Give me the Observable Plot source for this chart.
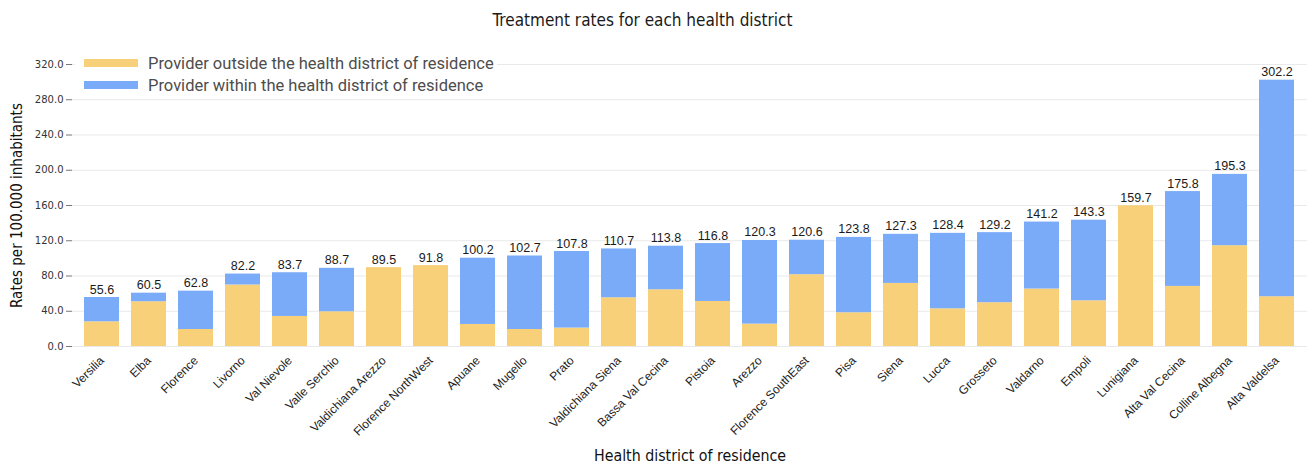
<!DOCTYPE html>
<html><head><meta charset="utf-8">
<script src="https://cdn.jsdelivr.net/npm/d3@7"></script>
<script src="https://cdn.jsdelivr.net/npm/@observablehq/plot@0.6"></script>
<style>
body{margin:0;background:#fff}
#chart{position:relative;width:1314px;height:463px;overflow:hidden;background:#fff}
#title{position:absolute;left:0;top:0;width:1285px;height:40px;line-height:40px;text-align:center;font-family:"DejaVu Sans Condensed";font-size:17px;color:#1a1a1a}
#plot{position:absolute;left:0;top:40px}
#legend{position:absolute;left:75px;top:52px;width:422px;background:#fff;font-family:Roboto;font-size:16.5px;color:#4d4d4d}
.item{display:flex;align-items:center;height:22px;white-space:nowrap}
.sw{width:54px;height:8px;margin-left:9px;margin-right:10px;flex:none}
</style></head><body>
<div id="chart"><div id="title">Treatment rates for each health district</div><div id="plot"></div><div id="legend"></div></div>
<script>
const districts = ["Versilia","Elba","Florence","Livorno","Val Nievole","Valle Serchio","Valdichiana Arezzo","Florence NorthWest","Apuane","Mugello","Prato","Valdichiana Siena","Bassa Val Cecina","Pistoia","Arezzo","Florence SouthEast","Pisa","Siena","Lucca","Grosseto","Valdarno","Empoli","Lunigiana","Alta Val Cecina","Colline Albegna","Alta Valdelsa"];
const totals = [55.6,60.5,62.8,82.2,83.7,88.7,89.5,91.8,100.2,102.7,107.8,110.7,113.8,116.8,120.3,120.6,123.8,127.3,128.4,129.2,141.2,143.3,159.7,175.8,195.3,302.2];
const outside = [28.0,50.8,19.3,69.8,34.1,39.4,89.5,91.8,25.0,19.3,20.9,55.3,64.4,51.1,25.4,81.5,38.3,71.6,42.8,49.7,65.2,51.9,159.7,68.2,114.4,56.5];
const within = [27.6,9.7,43.5,12.4,49.6,49.3,0,0,75.2,83.4,86.9,55.4,49.4,65.7,94.9,39.1,85.5,55.7,85.6,79.5,76.0,91.4,0,107.6,80.9,245.7];
const seriesNames = ["Provider outside the health district of residence","Provider within the health district of residence"];
const seriesColors = ["#f9d07a","#79abf8"];
const yTicks = [0,40,80,120,160,200,240,280,320];

const rows = [
  ...districts.map((d,i)=>({district:d, series:seriesNames[0], value:outside[i]})),
  ...districts.map((d,i)=>({district:d, series:seriesNames[1], value:within[i]}))
];
const totalRows = districts.map((d,i)=>({district:d, total:totals[i]}));

const plot = Plot.plot({
  width:1314, height:423,
  marginTop:24, marginBottom:117, marginLeft:72, marginRight:7,
  style:{fontFamily:"Liberation Sans", background:"transparent"},
  x:{domain:districts, paddingInner:0.25, paddingOuter:0.1},
  y:{domain:[0,320]},
  color:{domain:seriesNames, range:seriesColors},
  marks:[
    Plot.gridY(yTicks,{stroke:"#e9e9e9", strokeOpacity:1, strokeWidth:1.2}),
    Plot.barY(rows,{x:"district", y:"value", fill:"series", order:seriesNames}),
    Plot.text(totalRows,{x:"district", y:"total", text:d=>d.total.toFixed(1), lineAnchor:"bottom", dy:-4, fontSize:12.5, fill:"#1a1a1a", fontFamily:"Liberation Sans"}),
    Plot.axisY({ticks:yTicks, tickFormat:d3.format(".1f"), tickSize:6, tickPadding:3, fontSize:10, fontFamily:"DejaVu Sans", fill:"#333", stroke:"#777",
      label:"Rates per 100.000 inhabitants", labelAnchor:"center", labelArrow:"none", labelOffset:61}),
    Plot.axisX({tickSize:0, tickPadding:12, tickRotate:-45, fontSize:12, fontFamily:"Liberation Sans", fill:"#222",
      label:"Health district of residence", labelAnchor:"center", labelArrow:"none", labelOffset:114})
  ]
});
document.getElementById("plot").appendChild(plot);
plot.querySelectorAll("text").forEach(t=>{
  if (t.textContent==="Rates per 100.000 inhabitants"||t.textContent==="Health district of residence"){
    t.setAttribute("font-size", t.textContent.startsWith("Rates") ? "15" : "15.8");
    t.setAttribute("font-family","DejaVu Sans Condensed"); t.setAttribute("fill","#111");
  }
});

const color = plot.scale("color");
const lg = d3.select("#legend");
color.domain.forEach((name,i)=>{
  const it = lg.append("div").attr("class","item");
  it.append("div").attr("class","sw").style("background",color.range[i]);
  it.append("span").text(name);
});
</script>
</body></html>
